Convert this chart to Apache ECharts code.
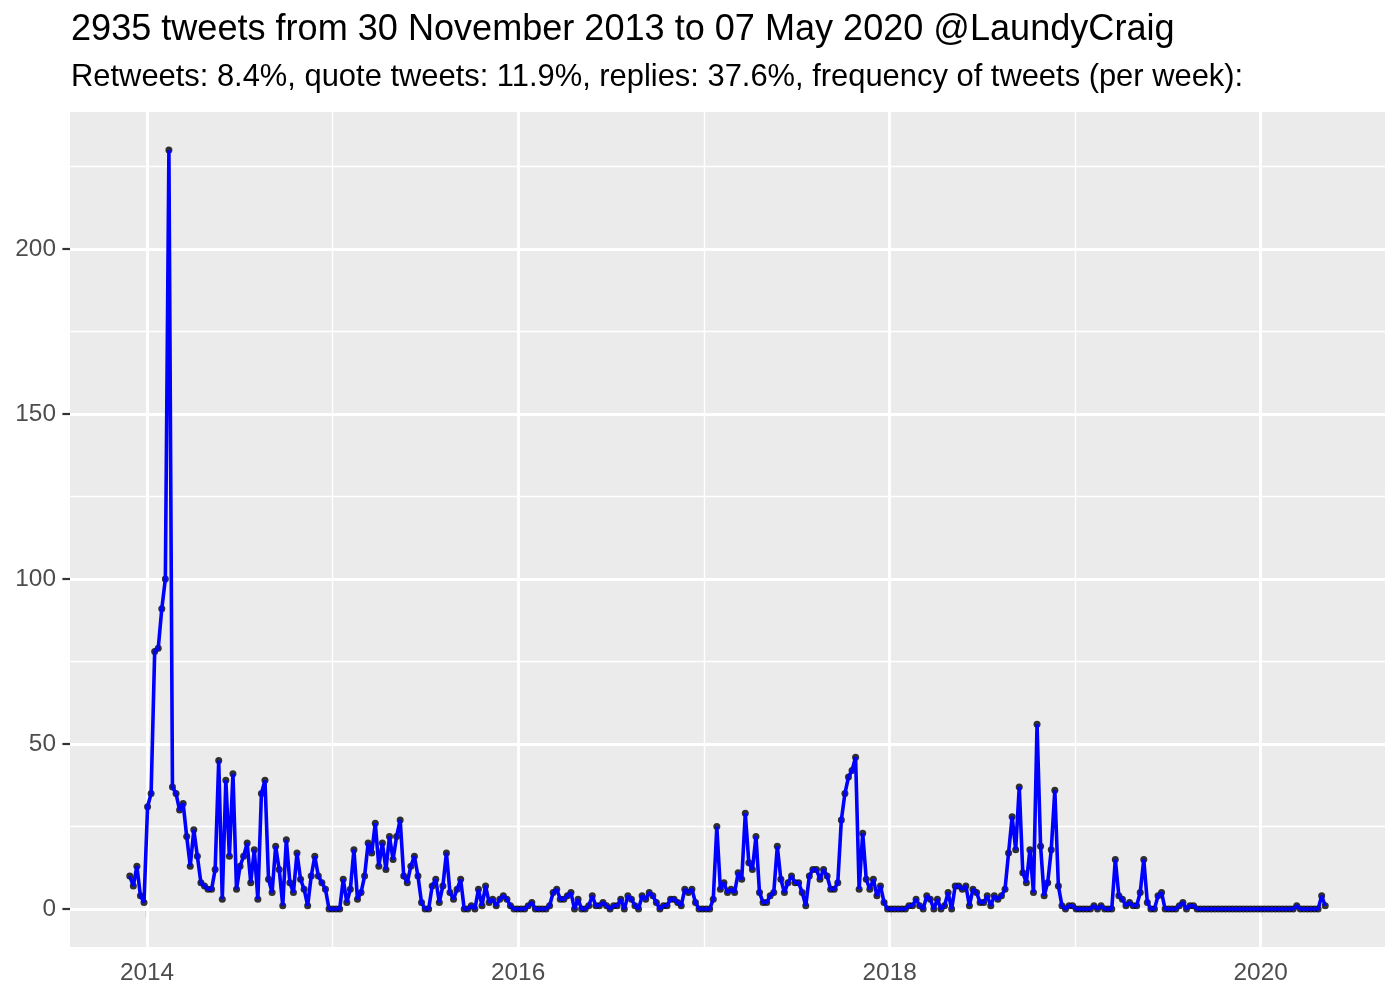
<!DOCTYPE html>
<html>
<head>
<meta charset="utf-8">
<script src="https://cdn.jsdelivr.net/npm/echarts@6/dist/echarts.min.js"></script>
<style>
html,body{margin:0;padding:0;background:#fff;}
#chart{width:1400px;height:1000px;}
</style>
</head>
<body>
<div id="chart"></div>
<script>
// ---- data ----
const titleText = "2935 tweets from 30 November 2013 to 07 May 2020 @LaundyCraig";
const subtitleText = "Retweets: 8.4%, quote tweets: 11.9%, replies: 37.6%, frequency of tweets (per week):";
const firstWeek = [2013, 10, 28]; // 28 Nov 2013 (month 0-based), weekly bins
const weeklyTweets = [
  10,7,13,4,2,31,35,78,79,91,100,230,37,
  35,30,32,22,13,24,16,8,7,6,6,12,
  45,3,39,16,41,6,13,16,20,8,18,3,
  35,39,9,5,19,12,1,21,8,5,17,9,6,
  1,10,16,10,8,6,0,0,0,0,
  9,2,6,18,3,5,10,20,17,26,
  13,20,12,22,15,22,27,10,8,13,
  16,10,2,0,0,7,9,2,7,17,
  5,3,6,9,0,0,1,0,6,1,
  7,2,3,1,3,4,3,1,0,0,
  0,0,1,2,0,0,0,0,1,5,
  6,3,3,4,5,0,3,0,0,1,
  4,1,1,2,1,0,1,1,3,0,
  4,3,1,0,4,3,5,4,2,0,
  1,1,3,3,2,1,6,5,6,2,
  0,0,0,0,3,25,6,8,5,6,
  5,11,9,29,14,12,22,5,2,2,
  4,5,19,9,5,8,10,8,8,5,
  1,10,12,12,9,12,10,6,6,8,
  27,35,40,42,46,6,23,9,6,9,
  4,7,2,0,0,0,0,0,0,1,
  1,3,1,0,4,3,0,3,0,1,
  5,0,7,7,6,7,1,6,5,2,
  2,4,1,4,3,4,6,17,28,18,
  37,11,8,18,5,56,19,4,8,18,
  36,7,1,0,1,1,0,0,0,0,
  0,1,0,1,0,0,0,15,4,3,
  1,2,1,1,5,15,2,0,0,4,
  5,0,0,0,0,1,2,0,1,1,
  0,0,0,0,0,0,0,0,0,0,
  0,0,0,0,0,0,0,0,0,0,
  0,0,0,0,0,0,0,0,1,0,
  0,0,0,0,0,4,1
];
const xBreakYears = [2014, 2016, 2018, 2020];
const xMinorYears = [2015, 2017, 2019];
const yBreaks = [0, 50, 100, 150, 200];
const yMinor = [25, 75, 125, 175, 225];

// ---- build ----
const points = weeklyTweets.map((v, i) => [
  new Date(firstWeek[0], firstWeek[1], firstWeek[2] + 7 * i).getTime(), v
]);
const tFirst = points[0][0], tLast = points[points.length - 1][0];
const span = tLast - tFirst;
const xMin = tFirst - 0.05 * span, xMax = tLast + 0.05 * span;
const yMaxData = Math.max.apply(null, weeklyTweets);
const yMin = -0.05 * yMaxData, yMax = yMaxData * 1.05;
const yearTs = y => new Date(y, 0, 1).getTime();

const FONT = "Liberation Sans, Arial, Helvetica, sans-serif";
const gridLines = [];
yBreaks.forEach(v => gridLines.push({yAxis: v, lineStyle: {width: 2.9}}));
yMinor.forEach(v => gridLines.push({yAxis: v, lineStyle: {width: 1.45}}));
xBreakYears.forEach(y => gridLines.push({xAxis: yearTs(y), lineStyle: {width: 2.9}}));
xMinorYears.forEach(y => gridLines.push({xAxis: yearTs(y), lineStyle: {width: 1.45}}));

const chart = echarts.init(document.getElementById('chart'), null, {renderer: 'canvas'});
chart.setOption({
  animation: false,
  backgroundColor: '#ffffff',
  title: [
    {text: titleText, left: 71, top: 12, padding: 0,
     textStyle: {fontFamily: FONT, fontSize: 36.1, fontWeight: 'normal', color: '#000'}},
    {text: subtitleText, left: 71, top: 62, padding: 0,
     textStyle: {fontFamily: FONT, fontSize: 30.9, fontWeight: 'normal', color: '#000'}}
  ],
  grid: {left: 70, top: 112, width: 1315, height: 835, show: true,
         backgroundColor: '#EBEBEB', borderWidth: 0, z: 0},
  xAxis: {
    type: 'value', min: xMin, max: xMax, scale: true,
    axisLine: {show: false},
    splitLine: {show: false},
    axisTick: {show: true, length: 7.6, customValues: xBreakYears.map(yearTs),
               lineStyle: {color: '#333333', width: 2.2}},
    axisLabel: {customValues: xBreakYears.map(yearTs), margin: 14,
                fontFamily: FONT, fontSize: 24.4, color: '#4D4D4D',
                formatter: v => String(new Date(v).getFullYear())}
  },
  yAxis: {
    type: 'value', min: yMin, max: yMax,
    axisLine: {show: false},
    splitLine: {show: false},
    axisTick: {show: true, length: 7.6, customValues: yBreaks,
               lineStyle: {color: '#333333', width: 2.2}},
    axisLabel: {customValues: yBreaks, margin: 14,
                fontFamily: FONT, fontSize: 24.4, color: '#4D4D4D'}
  },
  series: [
    {
      type: 'scatter', name: 'grid', data: [], silent: true, z: 1,
      markLine: {silent: true, symbol: 'none', label: {show: false}, z: 1,
                 lineStyle: {color: '#ffffff', type: 'solid'},
                 emphasis: {disabled: true},
                 data: gridLines, animation: false}
    },
    {
      type: 'scatter', data: points, symbolSize: 7, z: 10,
      itemStyle: {color: '#000000'}, silent: true
    },
    {
      type: 'line', data: points, showSymbol: false, z: 11,
      lineStyle: {color: '#0000FF', width: 3.6}, silent: true
    }
  ]
});
</script>
</body>
</html>
